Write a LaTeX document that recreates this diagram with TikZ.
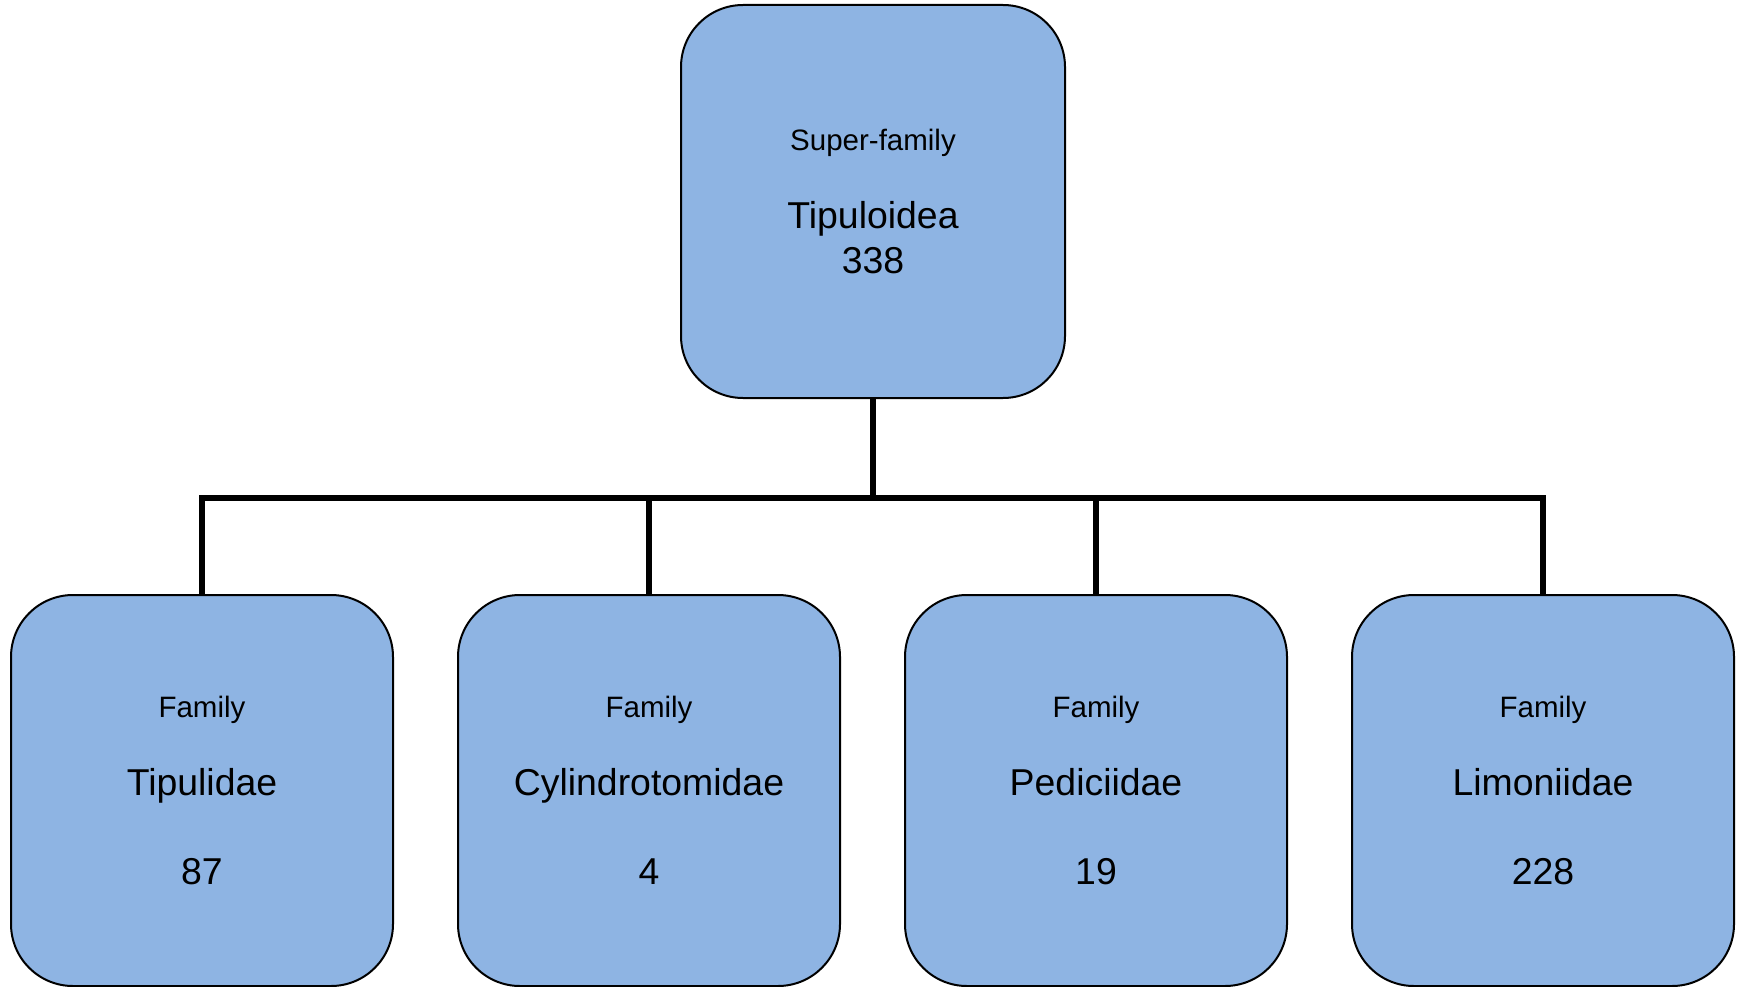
\documentclass[tikz,border=0pt]{standalone}
\usepackage{fontspec}
\setmainfont{Liberation Sans}
\usetikzlibrary{positioning}
\definecolor{boxblue}{RGB}{142,180,227}
\begin{document}
\begin{tikzpicture}[x=1pt,y=-1pt,node distance=447pt,
    taxon/.style={draw,line width=2pt,fill=boxblue,rounded corners=62pt,
        minimum width=382pt,minimum height=391pt,align=center,
        font=\fontsize{37.4}{45}\selectfont},
    link/.style={line width=6pt}]
    \useasboundingbox (0,0) rectangle (1744,987);
    \node[taxon] (tipul) at (202,790.5) {{\fontsize{29.5}{34}\selectfont Family}\\[33pt] Tipulidae\\[44pt] 87};
    \node[taxon] (cylin) [right of=tipul] {{\fontsize{29.5}{34}\selectfont Family}\\[33pt] Cylindrotomidae\\[44pt] 4};
    \node[taxon] (pedic) [right of=cylin] {{\fontsize{29.5}{34}\selectfont Family}\\[33pt] Pediciidae\\[44pt] 19};
    \node[taxon] (limon) [right of=pedic] {{\fontsize{29.5}{34}\selectfont Family}\\[33pt] Limoniidae\\[44pt] 228};
    \node[taxon,minimum width=384pt,minimum height=393pt] (super) at (873,201.5) {{\fontsize{29.5}{34}\selectfont Super-family}\\[33pt] Tipuloidea\\ 338};

    \draw[link] (super.south) -- ++(0,99) -| (tipul.north);
    \draw[link] (super.south) -- ++(0,99) -| (cylin.north);
    \draw[link] (super.south) -- ++(0,99) -| (pedic.north);
    \draw[link] (super.south) -- ++(0,99) -| (limon.north);
\end{tikzpicture}
\end{document}
